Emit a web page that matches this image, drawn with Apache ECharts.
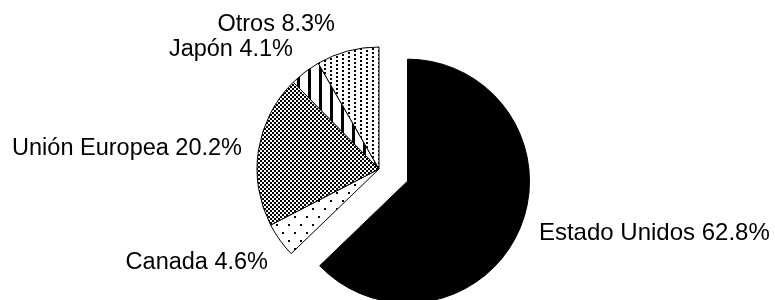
<!DOCTYPE html>
<html>
<head>
<meta charset="utf-8">
<script src="https://cdn.jsdelivr.net/npm/echarts@6/dist/echarts.min.js"></script>
<style>
  html, body { margin: 0; padding: 0; background: #fff; }
  #chart { width: 775px; height: 300px; }
</style>
</head>
<body>
<div id="chart"></div>
<script>
// datos (orden horario desde las 12)
const categories = ['Estado Unidos', 'Canada', 'Unión Europea', 'Japón', 'Otros']
const shares = [62.8, 4.6, 20.2, 4.1, 8.3]

// posición de cada etiqueta [x, y, align]; null = la del propio pie
const labelAnchors = [
  null,
  [268, 263, 'right'],
  [242, 149, 'right'],
  [293, 50, 'right'],
  [335, 25, 'right']
]

// tramas tipo Excel en blanco y negro
function makePattern (w, h, draw) {
  const c = document.createElement('canvas')
  c.width = w
  c.height = h
  const ctx = c.getContext('2d')
  ctx.fillStyle = '#fff'
  ctx.fillRect(0, 0, w, h)
  ctx.fillStyle = '#000'
  draw(ctx)
  return { image: c, repeat: 'repeat' }
}

const fills = [
  '#000',
  makePattern(12, 16, ctx => { // puntos dispersos
    ctx.fillRect(0, 0, 2, 2)
    ctx.fillRect(6, 8, 2, 2)
  }),
  makePattern(4, 4, ctx => { // damero
    ctx.fillRect(0, 0, 2, 2)
    ctx.fillRect(2, 2, 2, 2)
  }),
  makePattern(11, 4, ctx => { // rayas verticales
    ctx.fillRect(0, 0, 3, 4)
  }),
  makePattern(12, 8, ctx => { // puntos densos
    ctx.fillRect(0, 0, 2, 2)
    ctx.fillRect(0, 4, 2, 2)
    ctx.fillRect(6, 2, 2, 2)
    ctx.fillRect(6, 6, 2, 2)
  })
]

const chart = echarts.init(document.getElementById('chart'), null, { renderer: 'canvas' })

chart.setOption({
  animation: false,
  series: [
    {
      type: 'pie',
      center: [379, 169],
      radius: 122,
      startAngle: 90,
      clockwise: true,
      selectedMode: 'single',
      selectedOffset: 31,
      silent: true,
      itemStyle: {
        borderColor: '#000',
        borderWidth: 1
      },
      label: {
        show: true,
        position: 'outside',
        overflow: 'none',
        formatter: p => p.name + ' ' + p.value.toFixed(1) + '%',
        fontFamily: '"Liberation Sans", Arial, sans-serif',
        fontSize: 23.5,
        color: '#000'
      },
      labelLine: { show: false },
      labelLayout: function (params) {
        const a = labelAnchors[params.dataIndex]
        if (!a) return {}
        return {
          x: a[0],
          y: a[1],
          align: a[2],
          verticalAlign: 'middle'
        }
      },
      emphasis: { disabled: true },
      select: {
        itemStyle: { color: '#000', borderColor: '#000', borderWidth: 1 }
      },
      data: categories.map((name, i) => ({
        name,
        value: shares[i],
        selected: i === 0,
        itemStyle: { color: fills[i] },
        label: i === 0 ? { distanceToLabelLine: 9, fontSize: 24 } : undefined,
        labelLine: i === 0 ? { show: false, length: 11, length2: 0 } : undefined
      }))
    }
  ]
})
</script>
</body>
</html>
